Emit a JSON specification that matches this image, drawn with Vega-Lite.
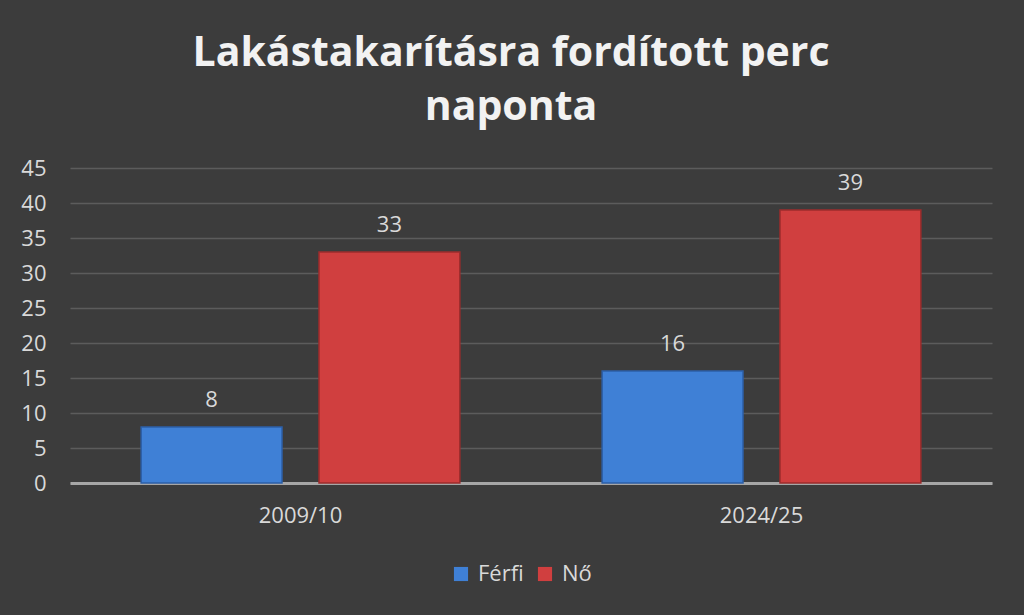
{
  "$schema": "https://vega.github.io/schema/vega-lite/v6.json",
  "autosize": {"type": "none"},
  "width": 922,
  "height": 315,
  "padding": {"left": 70, "top": 168, "right": 32, "bottom": 132},
  "background": "#3c3c3c",
  "title": {
    "text": ["Lakástakarításra fordított perc", "naponta"],
    "font": "Open Sans",
    "fontSize": 41,
    "fontWeight": "bold",
    "color": "#f2f2f2",
    "lineHeight": 54,
    "anchor": "middle",
    "dx": -20,
    "offset": 28
  },
  "data": {
    "values": [
      {"ev": "2009/10", "nem": "Férfi", "perc": 8},
      {"ev": "2009/10", "nem": "Nő", "perc": 33},
      {"ev": "2024/25", "nem": "Férfi", "perc": 16},
      {"ev": "2024/25", "nem": "Nő", "perc": 39}
    ]
  },
  "encoding": {
    "x": {
      "field": "ev",
      "type": "nominal",
      "title": null,
      "scale": {"paddingInner": 0, "paddingOuter": 0},
      "axis": {
        "labelAngle": 0,
        "labelFont": "Open Sans",
        "labelFontSize": 22,
        "labelColor": "#d9d9d9",
        "labelPadding": 22,
        "ticks": false,
        "domainColor": "#a6a6a6",
        "domainWidth": 3
      }
    },
    "xOffset": {
      "field": "nem",
      "type": "nominal",
      "scale": {"paddingInner": 0.208, "paddingOuter": 0.4}
    },
    "y": {
      "field": "perc",
      "type": "quantitative",
      "title": null,
      "scale": {"domain": [0, 45]},
      "axis": {
        "values": [0, 5, 10, 15, 20, 25, 30, 35, 40, 45],
        "labelFont": "Open Sans",
        "labelFontSize": 22,
        "labelColor": "#d9d9d9",
        "labelPadding": 24,
        "ticks": false,
        "domain": false,
        "gridColor": "#5c5c5c",
        "gridWidth": 1.5
      }
    }
  },
  "layer": [
    {
      "mark": {"type": "bar", "strokeWidth": 1.5},
      "encoding": {
        "color": {
          "field": "nem",
          "type": "nominal",
          "scale": {"domain": ["Férfi", "Nő"], "range": ["#3f80d6", "#d03f3f"]},
          "legend": {
            "title": null,
            "orient": "none",
            "legendX": 380,
            "legendY": 395,
            "direction": "horizontal",
            "symbolType": "square",
            "symbolSize": 200,
            "symbolStrokeWidth": 0,
            "labelFont": "Open Sans",
            "labelFontSize": 22,
            "labelColor": "#d9d9d9",
            "labelOffset": 6,
            "columnPadding": 10
          }
        },
        "stroke": {
          "field": "nem",
          "type": "nominal",
          "scale": {"domain": ["Férfi", "Nő"], "range": ["#2c5fa8", "#9c2c2c"]},
          "legend": null
        }
      }
    },
    {
      "mark": {"type": "text", "baseline": "bottom", "dy": -15, "font": "Open Sans", "fontSize": 22, "color": "#d9d9d9"},
      "encoding": {"text": {"field": "perc", "type": "quantitative"}}
    }
  ],
  "config": {"view": {"stroke": null}}
}
